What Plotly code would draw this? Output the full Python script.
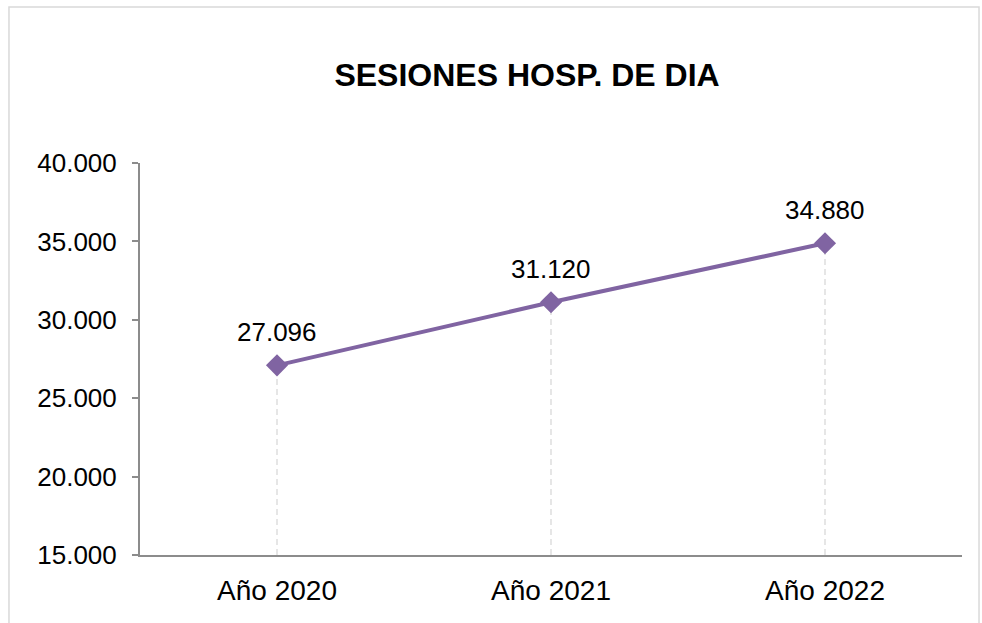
'''
    Line chart: sesiones de hospital de día por año.
'''

import plotly.graph_objects as go

YEARS = ["Año 2020", "Año 2021", "Año 2022"]
SESSIONS = [27096, 31120, 34880]
Y_MIN = 15000
Y_TICKS = [15000, 20000, 25000, 30000, 35000, 40000]

LINE_COLOR = "#8064A2"
AXIS_COLOR = "#8C8C8C"
FONT = "Liberation Sans, Arial, sans-serif"


def fmt(value):
    return f"{value:,}".replace(",", ".")


def build_drop_lines():
    xs, ys = [], []
    for year, value in zip(YEARS, SESSIONS):
        xs += [year, year, None]
        ys += [Y_MIN, value, None]
    return go.Scatter(
        x=xs, y=ys, mode="lines",
        line=dict(color="#D6D6D6", width=1.2, dash="6px,4px"),
        hoverinfo="skip", showlegend=False,
    )


fig = go.Figure()
fig.add_trace(build_drop_lines())
fig.add_trace(go.Scatter(
    x=YEARS,
    y=SESSIONS,
    mode="lines+markers",
    line=dict(color=LINE_COLOR, width=4),
    marker=dict(symbol="diamond", size=17, color=LINE_COLOR),
    showlegend=False,
))

# value labels sit a fixed distance above each marker
for year, value in zip(YEARS, SESSIONS):
    fig.add_annotation(
        x=year, y=value, text=fmt(value),
        showarrow=False, yanchor="middle", yshift=33,
        font=dict(size=26, color="#000000", family=FONT),
    )

fig.update_xaxes(
    range=[-0.5, 2.5],
    showline=True,
    linecolor=AXIS_COLOR,
    linewidth=2,
    showgrid=False,
    zeroline=False,
    ticks="",
    ticklabelstandoff=9,
    tickfont=dict(size=28, color="#000000", family=FONT),
)

fig.update_yaxes(
    range=[Y_MIN, 40000],
    tickvals=Y_TICKS,
    ticktext=[fmt(v) for v in Y_TICKS],
    showline=True,
    linecolor=AXIS_COLOR,
    linewidth=2,
    ticks="outside",
    ticklen=6,
    tickwidth=2,
    tickcolor=AXIS_COLOR,
    ticklabelstandoff=10,
    showgrid=False,
    zeroline=False,
    tickfont=dict(size=26, color="#000000", family=FONT),
)

fig.add_shape(
    type="rect", xref="paper", yref="paper",
    x0=-0.1594, x1=1.0207, y0=-0.3, y1=1.398,
    line=dict(color="#D9D9D9", width=1.5),
    layer="below",
)

fig.update_layout(
    width=982,
    height=623,
    margin=dict(l=140, r=20, t=163, b=68),
    paper_bgcolor="#FFFFFF",
    plot_bgcolor="#FFFFFF",
    font=dict(family=FONT, color="#000000"),
    title=dict(
        text="<b>SESIONES HOSP. DE DIA</b>",
        font=dict(size=32, color="#000000", family=FONT),
        x=0.5367, xanchor="center",
        y=1 - 75 / 623, yanchor="middle",
    ),
)

fig.write_html(
    "out.html",
    config={"displayModeBar": False},
    post_script="document.body.style.margin='0';",
)
